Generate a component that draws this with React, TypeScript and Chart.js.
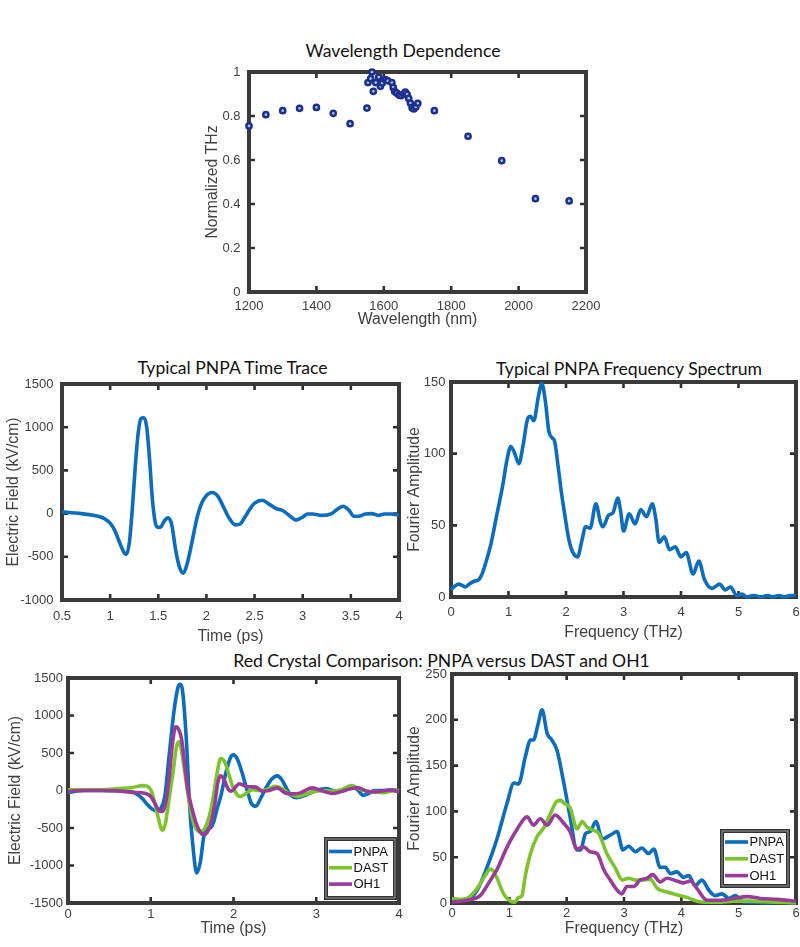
import React, { useEffect, useRef } from 'react';
import { Chart, registerables } from 'chart.js';

Chart.register(...registerables);

// ---------------- DATA ----------------
// Panel 1: Wavelength dependence
const wlNm = [1200, 1250, 1300, 1350, 1400, 1450, 1500, 1550, 1553, 1561, 1565, 1569, 1576, 1585, 1590, 1595, 1605, 1612, 1624, 1628, 1632, 1638, 1645, 1651, 1659, 1664, 1669, 1674, 1679, 1684, 1689, 1695, 1701, 1750, 1850, 1950, 2050, 2150];
const wlTHz = [0.755, 0.806, 0.824, 0.835, 0.839, 0.812, 0.765, 0.836, 0.952, 0.97, 1.0, 0.912, 0.952, 0.977, 0.935, 0.95, 0.965, 0.96, 0.952, 0.93, 0.912, 0.905, 0.895, 0.892, 0.9, 0.909, 0.898, 0.88, 0.859, 0.838, 0.832, 0.841, 0.858, 0.824, 0.708, 0.597, 0.424, 0.414];
const wlTicksX = [1200, 1400, 1600, 1800, 2000, 2200];
const wlTicksY = [0, 0.2, 0.4, 0.6, 0.8, 1];

// Panel 2: Typical PNPA time trace
const traceT = [0.5, 0.6, 0.7, 0.8, 0.9, 0.95, 1.0, 1.05, 1.1, 1.15, 1.17, 1.2, 1.23, 1.26, 1.29, 1.32, 1.35, 1.38, 1.41, 1.44, 1.47, 1.5, 1.53, 1.56, 1.6, 1.64, 1.68, 1.72, 1.76, 1.8, 1.85, 1.9, 1.95, 2.0, 2.06, 2.12, 2.18, 2.24, 2.3, 2.35, 2.4, 2.45, 2.5, 2.58, 2.65, 2.72, 2.8, 2.87, 2.93, 3.0, 3.05, 3.1, 3.2, 3.3, 3.36, 3.42, 3.48, 3.53, 3.58, 3.65, 3.72, 3.78, 3.85, 3.92, 4.0];
const traceE = [20, 10, 0, -15, -40, -65, -110, -200, -340, -460, -470, -330, 50, 530, 920, 1100, 1110, 1000, 620, 150, -110, -160, -150, -90, -50, -130, -420, -620, -690, -580, -330, -60, 120, 210, 245, 200, 70, -60, -130, -120, -40, 50, 120, 155, 110, 60, 30, -30, -75, -40, -5, -5, -20, 0, 50, 85, 40, -30, -30, -5, 0, -20, -5, -5, -20];
const traceTicksX = [0.5, 1, 1.5, 2, 2.5, 3, 3.5, 4];
const traceTicksY = [-1000, -500, 0, 500, 1000, 1500];

// Panel 3: Typical PNPA frequency spectrum
const specF = [0, 0.05, 0.13, 0.2, 0.25, 0.32, 0.4, 0.48, 0.55, 0.62, 0.7, 0.8, 0.9, 0.97, 1.04, 1.1, 1.18, 1.25, 1.33, 1.38, 1.44, 1.52, 1.58, 1.64, 1.7, 1.76, 1.8, 1.86, 1.92, 1.98, 2.05, 2.12, 2.2, 2.28, 2.34, 2.42, 2.52, 2.6, 2.64, 2.74, 2.82, 2.9, 2.95, 3.0, 3.1, 3.2, 3.3, 3.4, 3.5, 3.56, 3.62, 3.71, 3.8, 3.9, 4.0, 4.09, 4.21, 4.31, 4.41, 4.54, 4.67, 4.77, 4.86, 4.97, 5.06, 5.15, 5.26, 5.4, 5.5, 5.6, 5.7, 5.8, 5.9, 6.0];
const specA = [5, 7, 9, 8, 7, 9, 11, 12, 17, 26, 38, 58, 78, 95, 105, 101, 93, 105, 124, 126, 123, 140, 149, 137, 116, 111, 109, 92, 73, 57, 40, 31, 28, 40, 49, 48, 65, 52, 49, 57, 59, 69, 60, 46, 58, 51, 61, 56, 65, 55, 38, 42, 33, 35, 28, 31, 16, 25, 12, 6, 9, 5, 7, 1, 2, 0, 1, 0, 1, 0, 1, 0, 1, 1];
const specTicksX = [0, 1, 2, 3, 4, 5, 6];
const specTicksY = [0, 50, 100, 150];

// Panel 4: comparison, time domain
const cmpPnpaT = [0, 0.2, 0.4, 0.6, 0.78, 0.9, 0.96, 1.02, 1.08, 1.12, 1.17, 1.22, 1.28, 1.33, 1.355, 1.38, 1.43, 1.47, 1.51, 1.555, 1.6, 1.64, 1.68, 1.72, 1.76, 1.8, 1.85, 1.9, 1.96, 2.0, 2.05, 2.1, 2.16, 2.22, 2.27, 2.33, 2.4, 2.46, 2.53, 2.58, 2.63, 2.69, 2.76, 2.85, 2.95, 3.05, 3.12, 3.2, 3.3, 3.43, 3.5, 3.57, 3.63, 3.7, 3.8, 3.9, 4.0];
const cmpPnpaE = [-25, 0, 0, -5, -20, -110, -190, -250, -275, -240, -80, 440, 1050, 1380, 1415, 1360, 680, -210, -745, -1100, -950, -620, -510, -500, -420, -250, -60, 200, 430, 475, 410, 250, 20, -180, -210, -100, 50, 150, 195, 150, 50, -60, -95, -70, -20, 15, 25, 0, -10, 55, 10, -65, -40, 0, 0, 5, 0];
const cmpDastT = [0, 0.2, 0.4, 0.6, 0.78, 0.9, 0.95, 1.0, 1.05, 1.09, 1.14, 1.18, 1.22, 1.27, 1.31, 1.34, 1.37, 1.41, 1.46, 1.51, 1.56, 1.61, 1.66, 1.71, 1.76, 1.8, 1.845, 1.89, 1.94, 1.99, 2.04, 2.08, 2.15, 2.23, 2.32, 2.4, 2.5, 2.58, 2.67, 2.78, 2.9, 3.0, 3.1, 3.2, 3.3, 3.43, 3.52, 3.6, 3.7, 3.8, 3.9, 4.0];
const cmpDastE = [10, 10, 10, 25, 40, 65, 60, 10, -170, -360, -530, -420, -120, 250, 580, 650, 540, 250, -120, -400, -530, -545, -490, -330, -60, 220, 425, 390, 230, 50, -50, -80, -40, 10, 0, 10, 55, 30, -40, -78, -40, -10, 0, -10, 10, 65, 20, -10, -20, -30, -10, 0];
const cmpOh1T = [0, 0.2, 0.4, 0.6, 0.78, 0.94, 1.0, 1.05, 1.1, 1.14, 1.18, 1.22, 1.26, 1.3, 1.33, 1.37, 1.41, 1.45, 1.5, 1.55, 1.6, 1.64, 1.68, 1.72, 1.77, 1.81, 1.84, 1.88, 1.93, 1.97, 2.02, 2.07, 2.12, 2.17, 2.27, 2.35, 2.43, 2.53, 2.62, 2.7, 2.8, 2.95, 3.03, 3.12, 3.2, 3.3, 3.4, 3.51, 3.6, 3.7, 3.84, 3.92, 4.0];
const cmpOh1E = [-10, 0, 0, -5, -25, -40, -80, -170, -270, -280, -165, 150, 600, 850, 830, 700, 350, 0, -250, -440, -560, -590, -560, -460, -210, 100, 195, 160, 30, -10, 40, 90, 70, 50, 45, -10, 0, 35, -30, -45, -35, 35, 10, -20, -40, -15, 20, 35, -5, -20, 0, 5, -20];
const cmpTimeTicksX = [0, 1, 2, 3, 4];
const cmpTimeTicksY = [-1500, -1000, -500, 0, 500, 1000, 1500];

// Panel 5: comparison, frequency domain
const cmpPnpaF = [0, 0.26, 0.44, 0.61, 0.78, 0.96, 1.08, 1.16, 1.28, 1.37, 1.42, 1.5, 1.57, 1.66, 1.74, 1.83, 1.95, 2.06, 2.18, 2.24, 2.33, 2.41, 2.51, 2.62, 2.76, 2.88, 2.98, 3.08, 3.2, 3.31, 3.43, 3.52, 3.63, 3.72, 3.81, 3.92, 4.04, 4.13, 4.24, 4.36, 4.48, 4.59, 4.71, 4.83, 4.94, 5.09, 5.3, 5.5, 5.75, 6.0];
const cmpPnpaA = [3, 3, 14, 39, 69, 109, 131, 130, 160, 178, 178, 195, 211, 185, 178, 167, 131, 94, 58, 58, 76, 78, 89, 70, 74, 78, 58, 62, 56, 60, 54, 59, 39, 39, 32, 34, 28, 30, 19, 25, 14, 8, 10, 5, 8, 1, 1, 0, 1, 0];
const cmpDastF = [0, 0.15, 0.26, 0.44, 0.58, 0.67, 0.72, 0.78, 0.9, 1.02, 1.1, 1.16, 1.22, 1.28, 1.37, 1.48, 1.6, 1.72, 1.83, 1.9, 1.95, 2.06, 2.18, 2.27, 2.35, 2.44, 2.56, 2.7, 2.85, 2.97, 3.08, 3.2, 3.31, 3.46, 3.58, 3.75, 3.92, 4.1, 4.27, 4.45, 4.7, 4.9, 5.2, 5.6, 6.0];
const cmpDastA = [5, 4, 5, 16, 30, 37, 35, 28, 10, 2, 1, 6, 8, 30, 54, 72, 82, 98, 111, 112, 109, 104, 81, 89, 83, 80, 76, 54, 38, 25, 27, 25, 25, 26, 16, 12, 9, 6, 2, 1, 1, 2, 2, 1, 0];
const cmpOh1F = [0, 0.26, 0.49, 0.67, 0.78, 0.96, 1.13, 1.31, 1.42, 1.54, 1.66, 1.8, 1.95, 2.06, 2.18, 2.3, 2.41, 2.53, 2.65, 2.76, 2.88, 2.96, 3.05, 3.17, 3.28, 3.4, 3.5, 3.63, 3.75, 3.92, 4.04, 4.16, 4.27, 4.45, 4.68, 4.91, 5.15, 5.38, 5.67, 6.0];
const cmpOh1A = [1, 3, 8, 25, 36, 61, 80, 94, 85, 92, 85, 96, 87, 78, 59, 61, 56, 54, 36, 25, 14, 10, 18, 18, 25, 27, 31, 23, 27, 24, 22, 24, 16, 3, 3, 5, 7, 5, 4, 2];
const cmpSpecTicksX = [0, 1, 2, 3, 4, 5, 6];
const cmpSpecTicksY = [0, 50, 100, 150, 200, 250];

const seriesNames = ['PNPA', 'DAST', 'OH1'];

// ---------------- STYLE ----------------
const SANS = '"Liberation Sans", Arial, Helvetica, sans-serif';
const TITLE_FONT = 'Lato, "Open Sans", sans-serif';
const AXIS_GRAY = '#404040';
const BLUE = '#0b6dbb';
const GREEN = '#7dc42c';
const PURPLE = '#983c97';

const pts = (xs: number[], ys: number[]) => xs.map((x, i) => ({ x, y: ys[i] }));

// MATLAB-like box with inward ticks on all sides
const framePlugin = {
  id: 'matFrame',
  beforeDatasetsDraw(chart: any) {
    const { ctx, chartArea: a, scales } = chart;
    const xs = scales.x;
    const ys = scales.y;
    const len = 6;
    ctx.save();
    ctx.strokeStyle = '#2e2e2e';
    ctx.lineWidth = 2.6;
    ctx.beginPath();
    xs.ticks.forEach((t: any) => {
      const p = xs.getPixelForValue(t.value);
      ctx.moveTo(p, a.bottom);
      ctx.lineTo(p, a.bottom - len);
      ctx.moveTo(p, a.top);
      ctx.lineTo(p, a.top + len);
    });
    ys.ticks.forEach((t: any) => {
      const p = ys.getPixelForValue(t.value);
      ctx.moveTo(a.left, p);
      ctx.lineTo(a.left + len, p);
      ctx.moveTo(a.right, p);
      ctx.lineTo(a.right - len, p);
    });
    ctx.stroke();
    ctx.lineWidth = 4;
    ctx.strokeStyle = '#3a3a3a';
    ctx.strokeRect(a.left, a.top, a.right - a.left, a.bottom - a.top);
    ctx.restore();
  },
};

// Boxed legend inside the axes (bottom-right)
const boxLegendPlugin = {
  id: 'boxLegend',
  afterDatasetsDraw(chart: any, _args: any, o: any) {
    if (!o || !o.show) return;
    const { ctx, chartArea: a } = chart;
    const x = a.right - o.right - o.width;
    const y = a.bottom - o.bottom - o.height;
    ctx.save();
    ctx.fillStyle = '#ffffff';
    ctx.fillRect(x, y, o.width, o.height);
    ctx.lineWidth = 4;
    ctx.strokeStyle = '#333333';
    ctx.strokeRect(x, y, o.width, o.height);
    ctx.lineWidth = 1;
    ctx.strokeStyle = '#9a9a9a';
    ctx.strokeRect(x, y, o.width, o.height);
    chart.data.datasets.forEach((ds: any, i: number) => {
      const ry = y + o.first + i * o.gap;
      ctx.strokeStyle = ds.borderColor;
      ctx.lineWidth = ds.borderWidth;
      ctx.beginPath();
      ctx.moveTo(x + 3, ry);
      ctx.lineTo(x + 26, ry);
      ctx.stroke();
      ctx.fillStyle = '#111111';
      ctx.font = `13px ${SANS}`;
      ctx.textBaseline = 'middle';
      ctx.textAlign = 'left';
      ctx.fillText(ds.label, x + 27.5, ry + 0.5);
    });
    ctx.restore();
  },
};

function makeAxis(kind: 'x' | 'y', min: number, max: number, tickValues: number[], title: string, extent: number, tickPad: number) {
  return {
    type: 'linear',
    min,
    max,
    grid: { display: false, drawTicks: false },
    border: { display: false },
    afterBuildTicks: (s: any) => {
      s.ticks = tickValues.map((v) => ({ value: v }));
    },
    afterFit: (s: any) => {
      if (kind === 'x') {
        s.height = extent;
        s.paddingLeft = 0;
        s.paddingRight = 0;
      } else {
        s.width = extent;
        s.paddingTop = 0;
        s.paddingBottom = 0;
      }
    },
    ticks: {
      autoSkip: false,
      maxRotation: 0,
      padding: tickPad,
      color: AXIS_GRAY,
      font: { family: SANS, size: 13, lineHeight: 1.2 },
      callback: (v: any) => String(v),
    },
    title: {
      display: true,
      text: title,
      color: AXIS_GRAY,
      padding: 0,
      font: { family: SANS, size: 15.8, lineHeight: 1.2 },
    },
  };
}

type Box = { x: number; y: number; w: number; h: number };

function panelConfig(datasets: any[], type: string, xAxis: any, yAxis: any, padTop: number, padRight: number, legend: any) {
  return {
    type,
    data: { datasets },
    options: {
      responsive: false,
      animation: false,
      events: [],
      layout: { padding: { left: 0, top: padTop, right: padRight, bottom: 0 } },
      scales: { x: xAxis, y: yAxis },
      plugins: {
        legend: { display: false },
        tooltip: { enabled: false },
        title: { display: false },
        boxLegend: legend,
      },
    },
    plugins: [framePlugin, boxLegendPlugin],
  };
}

function lineDs(label: string, xs: number[], ys: number[], color: string, order: number) {
  return {
    label,
    data: pts(xs, ys),
    borderColor: color,
    backgroundColor: color,
    borderWidth: 3.6,
    pointRadius: 0,
    cubicInterpolationMode: 'monotone',
    fill: false,
    clip: false,
    order,
  };
}

function ChartPanel({ box, make }: { box: Box; make: () => any }) {
  const ref = useRef<HTMLCanvasElement | null>(null);
  useEffect(() => {
    if (!ref.current) return;
    const chart = new Chart(ref.current, make());
    return () => chart.destroy();
  }, []);
  return (
    <canvas
      ref={ref}
      width={box.w}
      height={box.h}
      style={{ position: 'absolute', left: box.x, top: box.y, width: box.w, height: box.h }}
    />
  );
}

function Title({ text, cx, top, width }: { text: string; cx: number; top: number; width: number }) {
  return (
    <div
      style={{
        position: 'absolute',
        left: cx - width / 2,
        top,
        width,
        textAlign: 'center',
        fontFamily: TITLE_FONT,
        fontSize: 17.6,
        lineHeight: '18px',
        color: '#111',
        whiteSpace: 'nowrap',
      }}
    >
      {text}
    </div>
  );
}

export default function App() {
  const p1 = () =>
    panelConfig(
      [
        {
          label: 'Normalized THz',
          data: pts(wlNm, wlTHz),
          pointRadius: 2.6,
          pointBorderWidth: 2.5,
          pointBorderColor: '#1f2d8e',
          pointBackgroundColor: '#8fd2f2',
          showLine: false,
          clip: false,
        },
      ],
      'scatter',
      makeAxis('x', 1200, 2200, wlTicksX, 'Wavelength (nm)', 37, 7),
      makeAxis('y', 0, 1, wlTicksY, 'Normalized THz', 46, 8.5),
      10,
      20,
      { show: false }
    );
  const p2 = () =>
    panelConfig(
      [lineDs('PNPA', traceT, traceE, BLUE, 0)],
      'line',
      makeAxis('x', 0.5, 4, traceTicksX, 'Time (ps)', 46, 9),
      makeAxis('y', -1000, 1500, traceTicksY, 'Electric Field (kV/cm)', 58, 8.5),
      10,
      16,
      { show: false }
    );
  const p3 = () =>
    panelConfig(
      [lineDs('PNPA', specF, specA, BLUE, 0)],
      'line',
      makeAxis('x', 0, 6, specTicksX, 'Frequency (THz)', 45, 8),
      makeAxis('y', 0, 150, specTicksY, 'Fourier Amplitude', 46, 5.5),
      10,
      4,
      { show: false }
    );
  const p4 = () =>
    panelConfig(
      [
        lineDs(seriesNames[0], cmpPnpaT, cmpPnpaE, BLUE, 2),
        lineDs(seriesNames[1], cmpDastT, cmpDastE, GREEN, 1),
        lineDs(seriesNames[2], cmpOh1T, cmpOh1E, PURPLE, 0),
      ],
      'line',
      makeAxis('x', 0, 4, cmpTimeTicksX, 'Time (ps)', 35, 4),
      makeAxis('y', -1500, 1500, cmpTimeTicksY, 'Electric Field (kV/cm)', 62, 5),
      10,
      12,
      { show: true, right: 4, bottom: 5, width: 69, height: 59, first: 12.5, gap: 16.3 }
    );
  const p5 = () =>
    panelConfig(
      [
        lineDs(seriesNames[0], cmpPnpaF, cmpPnpaA, BLUE, 2),
        lineDs(seriesNames[1], cmpDastF, cmpDastA, GREEN, 1),
        lineDs(seriesNames[2], cmpOh1F, cmpOh1A, PURPLE, 0),
      ],
      'line',
      makeAxis('x', 0, 6, cmpSpecTicksX, 'Frequency (THz)', 35, 2.5),
      makeAxis('y', 0, 250, cmpSpecTicksY, 'Fourier Amplitude', 47, 5),
      10,
      4,
      { show: true, right: 8, bottom: 17, width: 66, height: 55, first: 11, gap: 16.8 }
    );

  return (
    <div style={{ position: 'absolute', left: 0, top: 0, width: 800, height: 947, background: '#fff', overflow: 'hidden' }}>
      <Title text="Wavelength Dependence" cx={403} top={42} width={300} />
      <Title text="Typical PNPA Time Trace" cx={232.5} top={359} width={300} />
      <Title text="Typical PNPA Frequency Spectrum" cx={629} top={359.5} width={360} />
      <Title text="Red Crystal Comparison: PNPA versus DAST and OH1" cx={441.5} top={652} width={560} />
      <ChartPanel box={{ x: 203, y: 62, w: 403, h: 267 }} make={p1} />
      <ChartPanel box={{ x: 4, y: 374, w: 411, h: 272 }} make={p2} />
      <ChartPanel box={{ x: 405, y: 372, w: 395, h: 270 }} make={p3} />
      <ChartPanel box={{ x: 6, y: 668, w: 405, h: 270 }} make={p4} />
      <ChartPanel box={{ x: 405, y: 664, w: 395, h: 274 }} make={p5} />
    </div>
  );
}
